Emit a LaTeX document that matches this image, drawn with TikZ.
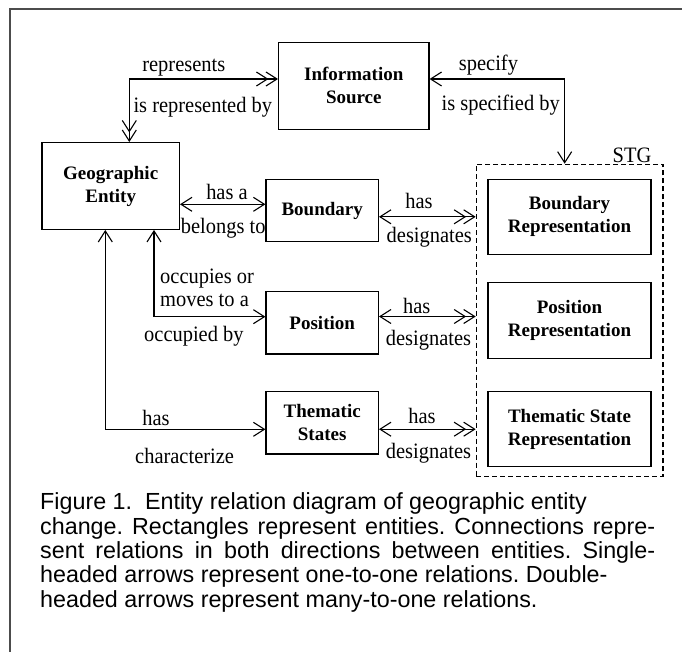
\documentclass[tikz,border=0pt]{standalone}
\usepackage{fontspec}
\setmainfont{Liberation Serif}
\newfontfamily\lblfont[FakeStretch=0.93]{Liberation Serif}
\newfontfamily\capfont{Liberation Sans}
\usetikzlibrary{arrows.meta}
\frenchspacing

\tikzset{
  entity/.style={draw, line width=1.3pt, inner sep=0pt, align=center,
    font=\fontsize{19}{23}\selectfont\bfseries},
  group/.style={draw, dashed, dash pattern=on 5pt off 3pt, line width=1.2pt, inner sep=0pt},
  lbl/.style={inner sep=0pt, font=\lblfont\fontsize{22}{24}\selectfont},
  caption/.style={inner sep=0pt, anchor=base west, font=\capfont\fontsize{23.3}{24.5}\selectfont},
  link/.style={line width=1.1pt},
  one/.tip={Straight Barb[length=11pt,width=14pt]},
  many/.tip={Straight Barb[length=11pt,width=14pt,sep=-3pt]Straight Barb[length=11pt,width=14pt]},
}

\begin{document}
\begin{tikzpicture}[x=1pt,y=-1pt]
\useasboundingbox (0,0) rectangle (682,652);

% open frame (left and top edges)
\draw[line width=2pt, black!70] (9.5,652) -- (9.5,9) -- (682,9);

% entities
\node[entity, minimum width=150.3pt, minimum height=87pt] (info) at (353.8,85.8) {Information\\Source};
\node[entity, minimum width=137.3pt, minimum height=86.6pt] (geo) at (110.7,186) {Geographic\\Entity};
\node[entity, minimum width=112.3pt, minimum height=62.4pt] (bnd) at (322.2,210.5) {Boundary};
\node[entity, minimum width=112.3pt, minimum height=62.3pt] (pos) at (322.2,322.8) {Position};
\node[entity, minimum width=112.3pt, minimum height=62.3pt] (thm) at (322.2,422.8) {Thematic\\States};

% STG group and its representations
\node[group, minimum width=186.7pt, minimum height=312.4pt] (stg) at (569.65,320.5) {};
\node[lbl, anchor=base] (stglbl) at (632,162.7) {STG};
\node[entity, minimum width=163pt, minimum height=75pt] (brep) at (569.5,216.8) {Boundary\\Representation};
\node[entity, minimum width=163pt, minimum height=75.6pt] (prep) at (569.5,320.5) {Position\\Representation};
\node[entity, minimum width=163pt, minimum height=75pt] (trep) at (569.5,429.2) {Thematic State\\Representation};

% anchor points of the connectors
\coordinate (repA) at ([xshift=18.6pt]geo.north);
\coordinate (repB) at ([yshift=6.8pt]info.west);
\coordinate (spcA) at ([yshift=6.8pt]info.east);
\coordinate (spcB) at ([xshift=-5pt]stg.north);
\coordinate (hasA) at ([yshift=-18.3pt]geo.east);
\coordinate (occA) at ([xshift=43.3pt]geo.south);
\coordinate (occB) at ([yshift=6.1pt]pos.west);
\coordinate (chrA) at ([xshift=-5.4pt]geo.south);
\coordinate (chrB) at ([yshift=-6.5pt]thm.west);
\coordinate (rowB) at (brep.west);
\coordinate (rowP) at ([yshift=4pt]prep.west);
\coordinate (rowT) at (trep.west);

% connectors
\draw[link, many-many] (repA) |- (repB);
\draw[link, one-one] (spcA) -| (spcB);
\draw[link, one-one] (hasA) -- (hasA -| bnd.west);
\draw[link, one-one] (occA) |- (occB);
\draw[link, one-one] (chrA) |- (chrB);
\draw[link, one-many] (bnd.east |- rowB) -- (stg.west |- rowB);
\draw[link, one-many] (pos.east |- rowP) -- (stg.west |- rowP);
\draw[link, one-many] (thm.east |- rowT) -- (stg.west |- rowT);

% relation labels
\node[lbl, anchor=base] (l1) at (183.8,72) {represents};
\node[lbl, anchor=base west] (l2) at (133.3,113) {is represented by};
\node[lbl, anchor=base west] (l3) at (458.7,71) {specify};
\node[lbl, anchor=base east] (l4) at (560,111) {is specified by};
\node[lbl, anchor=base] (l5) at (227,199.3) {has a};
\node[lbl, anchor=base west] (l6) at (180.7,234) {belongs to};
\node[lbl, anchor=base] (l7) at (419,208.3) {has};
\node[lbl, anchor=base west] (l8) at (386.5,243) {designates};
\node[lbl, anchor=base west] (l9) at (160,283.3) {occupies or};
\node[lbl, anchor=base west] (l10) at (160,306.7) {moves to a};
\node[lbl, anchor=base west] (l11) at (144,341.7) {occupied by};
\node[lbl, anchor=base] (l12) at (416.7,313.3) {has};
\node[lbl, anchor=base west] (l13) at (385.7,345) {designates};
\node[lbl, anchor=base] (l14) at (156,425.7) {has};
\node[lbl, anchor=base west] (l15) at (135,463.3) {characterize};
\node[lbl, anchor=base] (l16) at (422,423.3) {has};
\node[lbl, anchor=base west] (l17) at (385.7,458.3) {designates};

% caption
\node[caption] (c1) at (40,509) {Figure 1.\ \ Entity relation diagram of geographic entity};
\node[caption] (c2) at (40,534) {\makebox[615pt][s]{change. Rectangles represent entities. Connections repre-}};
\node[caption] (c3) at (40,558) {\makebox[615pt][s]{sent relations in both directions between entities. Single-}};
\node[caption] (c4) at (40,582) {headed arrows represent one-to-one relations. Double-};
\node[caption] (c5) at (40,607) {headed arrows represent many-to-one relations.};
\end{tikzpicture}
\end{document}
